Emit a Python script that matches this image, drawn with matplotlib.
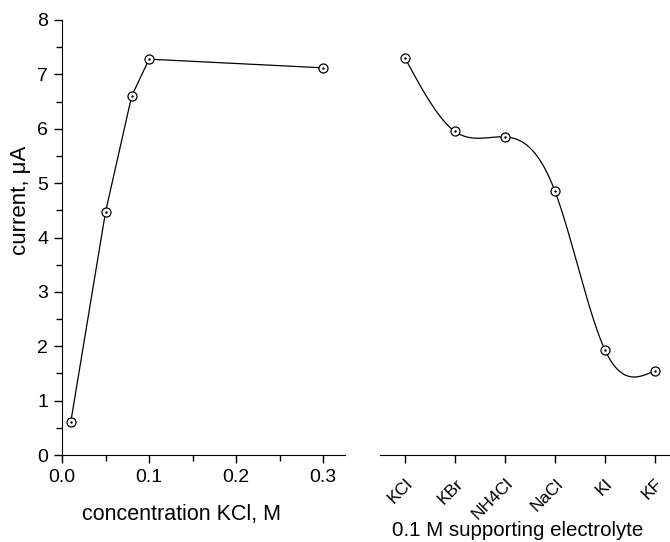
import numpy as np
import matplotlib
matplotlib.use("Agg")
from matplotlib import pyplot as plt
from matplotlib.ticker import MultipleLocator

plt.rcParams['font.family'] = ['Liberation Sans', 'DejaVu Sans']

# KCl concentration series
conc = [0.01, 0.05, 0.08, 0.10, 0.30]
conc_current = [0.60, 4.47, 6.60, 7.28, 7.12]

# supporting electrolyte series
electrolytes = ["KCl", "KBr", "NH4Cl", "NaCl", "KI", "KF"]
elec_current = [7.30, 5.95, 5.85, 4.85, 1.93, 1.55]


def natural_spline(x, y, xs):
    # natural cubic spline, numpy only
    x = np.asarray(x, float)
    y = np.asarray(y, float)
    n = len(x)
    h = np.diff(x)
    A = np.zeros((n, n))
    b = np.zeros(n)
    A[0, 0] = 1
    A[-1, -1] = 1
    for i in range(1, n - 1):
        A[i, i - 1] = h[i - 1]
        A[i, i] = 2 * (h[i - 1] + h[i])
        A[i, i + 1] = h[i]
        b[i] = 6 * ((y[i + 1] - y[i]) / h[i] - (y[i] - y[i - 1]) / h[i - 1])
    M = np.linalg.solve(A, b)
    out = np.empty_like(xs)
    for k, xv in enumerate(xs):
        i = min(max(np.searchsorted(x, xv) - 1, 0), n - 2)
        t1 = x[i + 1] - xv
        t0 = xv - x[i]
        out[k] = (M[i] * t1**3 + M[i + 1] * t0**3) / (6 * h[i]) \
            + (y[i] / h[i] - M[i] * h[i] / 6) * t1 \
            + (y[i + 1] / h[i] - M[i + 1] * h[i] / 6) * t0
    return out


fig = plt.figure(figsize=(6.7, 5.42), dpi=100)
ax1 = fig.add_axes([62 / 670, 87 / 542, 283 / 670, 435 / 542])
ax2 = fig.add_axes([380 / 670, 87 / 542, 290 / 670, 435 / 542])

mk = dict(marker='o', ms=6.5, mfc='white', mec='black', mew=0.9)

# left panel
ax1.plot(conc, conc_current, color='black', lw=0.9, **mk)
ax1.plot(conc, conc_current, ls='none', marker='.', ms=1.5, color='black')
ax1.set_xlim(0, 0.325)
ax1.set_ylim(0, 8)
ax1.xaxis.set_major_locator(MultipleLocator(0.1))
ax1.xaxis.set_minor_locator(MultipleLocator(0.05))
ax1.yaxis.set_major_locator(MultipleLocator(1))
ax1.yaxis.set_minor_locator(MultipleLocator(0.5))
ax1.xaxis.set_major_formatter(matplotlib.ticker.FormatStrFormatter('%.1f'))
for s in ['top', 'right']:
    ax1.spines[s].set_visible(False)
ax1.tick_params(which='major', direction='out', length=6, width=1, labelsize=14, pad=4)
ax1.tick_params(which='minor', direction='out', length=4, width=1)
ax1.set_ylabel("current, \u03bcA", fontsize=16)
ax1.yaxis.set_label_coords(-0.108, 0.585)
ax1.set_xlabel("concentration KCl, M", fontsize=15.5)
ax1.xaxis.set_label_coords(0.422, -0.113)

# right panel
xi = np.arange(len(electrolytes))
xs = np.linspace(0, len(electrolytes) - 1, 300)
ax2.plot(xs, natural_spline(xi, elec_current, xs), color='black', lw=0.9)
ax2.plot(xi, elec_current, ls='none', **mk)
ax2.plot(xi, elec_current, ls='none', marker='.', ms=1.5, color='black')
ax2.set_xlim(-0.5, 5.3)
ax2.set_ylim(0, 8)
ax2.set_xticks(xi)
ax2.set_xticklabels(electrolytes, rotation=45, ha='right', rotation_mode='anchor')
ax2.set_yticks([])
for s in ['top', 'right', 'left']:
    ax2.spines[s].set_visible(False)
ax2.tick_params(axis='x', direction='out', length=6, width=1, labelsize=12.5, pad=9)
ax2.set_xlabel("0.1 M supporting electrolyte", fontsize=14.8)
ax2.xaxis.set_label_coords(0.474, -0.151)

fig.savefig("out.png", dpi=100)
